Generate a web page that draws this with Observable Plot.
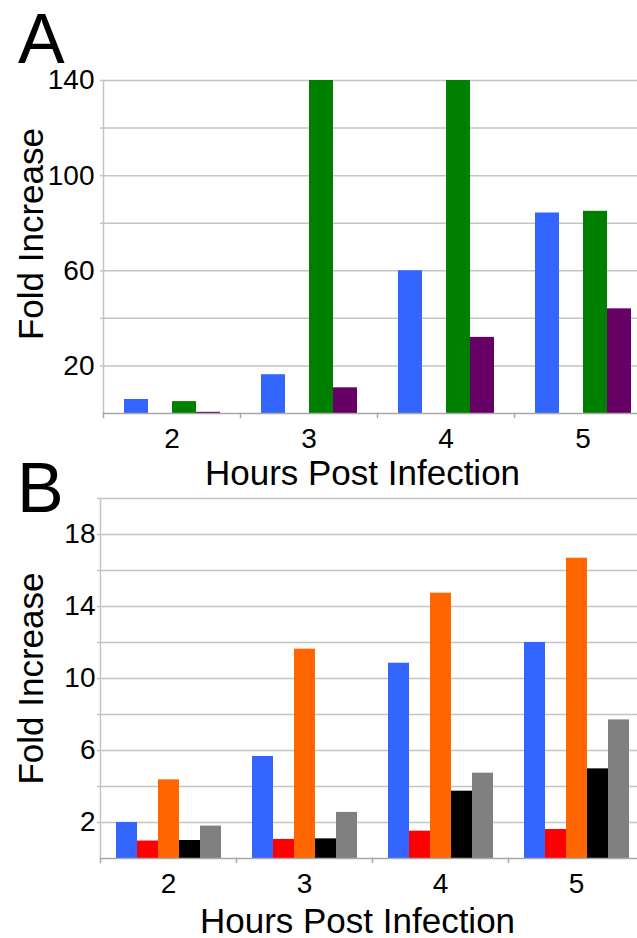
<!DOCTYPE html>
<html><head><meta charset="utf-8">
<script src="https://cdn.jsdelivr.net/npm/d3@7"></script>
<script src="https://cdn.jsdelivr.net/npm/@observablehq/plot@0.6"></script>
<style>
html,body{margin:0;padding:0;background:#fff;}
#wrap{position:relative;width:637px;height:938px;overflow:hidden;font-family:"Liberation Sans",Arial,sans-serif;color:#000;background:#fff;}
.panel{position:absolute;left:0;}
.letter{position:absolute;font-size:70px;line-height:70px;font-family:"Liberation Sans",Arial,sans-serif;}
</style></head><body>
<div id="wrap">
<div id="chartA" class="panel" style="top:0px"></div>
<div id="chartB" class="panel" style="top:490px"></div>
<div class="letter" style="left:18px;top:4px">A</div>
<div class="letter" style="left:17px;top:453px">B</div>
</div>
<script>
// ---- data ----
const hours = ["2", "3", "4", "5"];

// Panel A (series 2 has no bars)
const seriesA = ["A1", "A2", "A3", "A4"];
const colorsA = ["#3366ff", "#ff0000", "#008000", "#660066"];
const a1 = [5.9, 16.3, 60, 84.3];
const a2 = [null, null, null, null];
const a3 = [5.0, 140, 140, 85];
const a4 = [0.5, 10.8, 32, 44];
const gridA = [20, 40, 60, 80, 100, 120, 140];
const ticksA = [20, 60, 100, 140];

// Panel B
const seriesB = ["B1", "B2", "B3", "B4", "B5"];
const colorsB = ["#3366ff", "#ff0000", "#ff6600", "#000000", "#808080"];
const b1 = [2.0, 5.67, 10.85, 12.0];
const b2 = [0.97, 1.06, 1.52, 1.61];
const b3 = [4.37, 11.63, 14.74, 16.68];
const b4 = [1.0, 1.09, 3.74, 4.98];
const b5 = [1.8, 2.56, 4.74, 7.7];
const gridB = [2, 4, 6, 8, 10, 12, 14, 16, 18, 20];
const ticksB = [2, 6, 10, 14, 18];

const yLabel = "Fold Increase";
const xLabel = "Hours Post Infection";

function rows(series, arrays) {
  const out = [];
  series.forEach((s, j) => {
    arrays[j].forEach((v, i) => {
      if (v != null) out.push({hour: hours[i], series: s, value: v});
    });
  });
  return out;
}

const dataA = rows(seriesA, [a1, a2, a3, a4]);
const dataB = rows(seriesB, [b1, b2, b3, b4, b5]);

const font = "'Liberation Sans', Arial, sans-serif";
const gridColor = "#c4c4c4";
const axisColor = "#a8a8a8";

function panel(o) {
  const plotH = o.height - o.mt - o.mb;
  return Plot.plot({
    width: o.width,
    height: o.height,
    marginTop: o.mt,
    marginBottom: o.mb,
    marginLeft: o.ml,
    marginRight: 0,
    style: {fontFamily: font, fontSize: "28px", color: "#000", background: "transparent", maxWidth: "none", overflow: "visible"},
    fx: {domain: hours, padding: 0, axis: null},
    x: {domain: o.series, paddingInner: 0, paddingOuter: o.pad, axis: null},
    y: {domain: [0, o.yMax], axis: null},
    color: {domain: o.series, range: o.colors},
    marks: [
      Plot.ruleY(o.grid, {stroke: gridColor, strokeWidth: 1.5}),
      Plot.axisY(o.grid, {tickSize: 3, text: null, stroke: gridColor, strokeWidth: 1.5, label: null}),
      Plot.frame({anchor: "left", stroke: gridColor, strokeWidth: 1.5, facetAnchor: "left"}),
      Plot.barY(o.data, {fx: "hour", x: "series", y: "value", fill: "series"}),
      Plot.ruleY([0], {stroke: axisColor, strokeWidth: 1.5}),
      Plot.frame({anchor: "left", stroke: axisColor, strokeWidth: 1.5, insetTop: plotH, insetBottom: -4}),
      Plot.axisY(o.ticks, {tickSize: 0, tickPadding: o.yTickPad, fontSize: 28, label: null}),
      Plot.axisFx({anchor: "bottom", tickSize: 0, tickPadding: 15, fontSize: 28, label: null}),
      Plot.text([yLabel], {text: d => d, fx: () => "2", frameAnchor: "left", rotate: -90, fontSize: 35, dx: o.yLabelDx, dy: o.yLabelDy, textAnchor: "middle", lineAnchor: "middle"}),
      Plot.text([xLabel], {text: d => d, fx: () => "3", frameAnchor: "bottom-right", fontSize: 35, dx: -15, dy: o.xLabelDy, textAnchor: "middle", lineAnchor: "top"})
    ]
  });
}

document.getElementById("chartA").appendChild(panel({
  data: dataA, series: seriesA, colors: colorsA, yMax: 140, grid: gridA, ticks: ticksA,
  width: 651, height: 490, mt: 80, mb: 77, ml: 103, pad: 0.796, yTickPad: 9,
  yLabelDx: -72, yLabelDy: -13, xLabelDy: 47
}));

document.getElementById("chartB").appendChild(panel({
  data: dataB, series: seriesB, colors: colorsB, yMax: 20, grid: gridB, ticks: ticksB,
  width: 644, height: 448, mt: 8, mb: 80, ml: 100, pad: 0.738, yTickPad: 5,
  yLabelDx: -69, yLabelDy: 0, xLabelDy: 50
}));
</script>
</body></html>
